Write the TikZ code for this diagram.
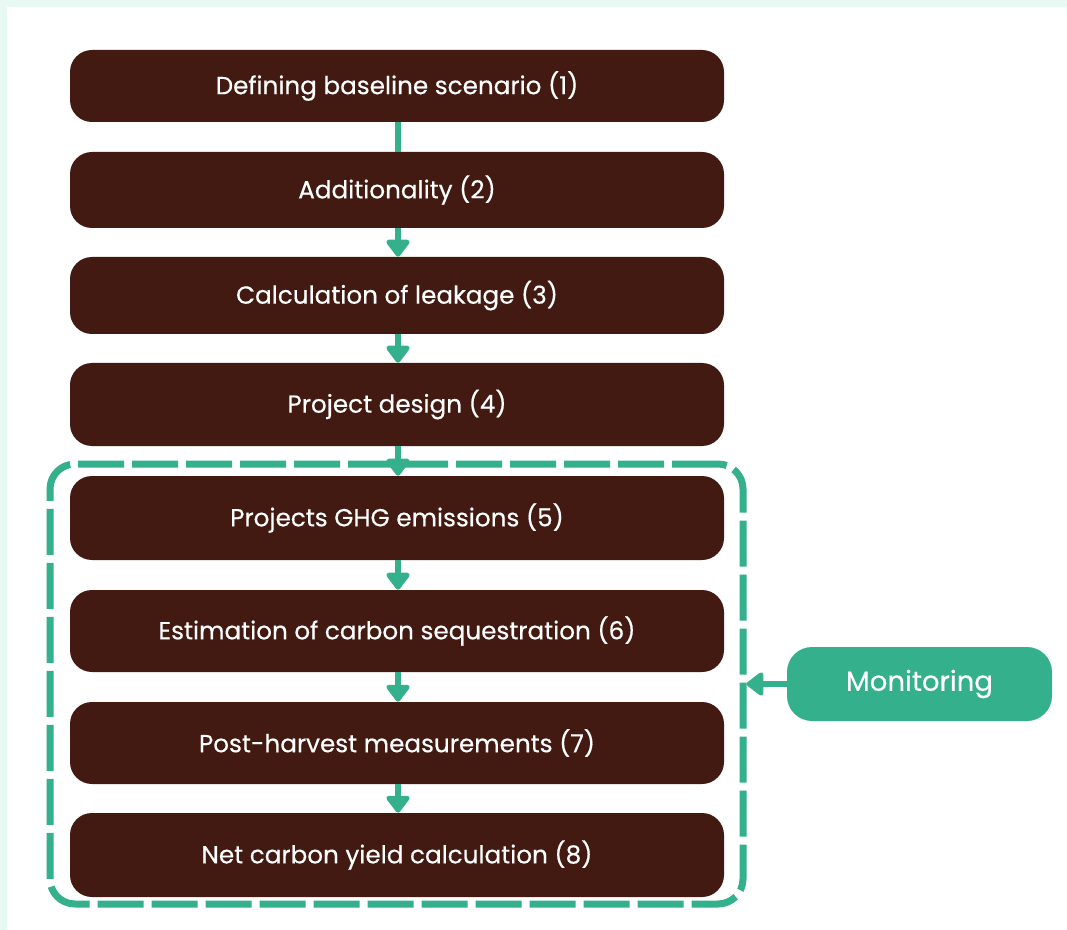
\documentclass[tikz,border=0pt]{standalone}
\usepackage{fontspec}
\setmainfont{Poppins}
\newfontfamily\boxfont{Poppins}[FakeBold=0.4]
\usetikzlibrary{arrows.meta}
\definecolor{brownbox}{RGB}{66,26,18}
\definecolor{greenc}{RGB}{52,176,140}
\definecolor{mintbg}{RGB}{232,248,242}
\tikzset{
  stepbox/.style={fill=brownbox, draw=none, rounded corners=16.5pt, minimum width=490.5pt, inner sep=0pt, text=white, font=\boxfont\fontsize{18.5}{22}\selectfont},
  flow/.style={draw=greenc, line width=4.5pt, -{Triangle[width=20pt,length=14pt,round]}},
  flowline/.style={draw=greenc, line width=4.5pt},
  monbox/.style={fill=greenc, draw=none, rounded corners=18.75pt, minimum width=198.75pt, minimum height=55.5pt, inner sep=0pt, text=white, font=\boxfont\fontsize{20.7}{25}\selectfont},
  frame/.style={draw=greenc, line width=5.25pt, dash pattern=on 34.5pt off 6pt, rounded corners=18.75pt, minimum width=519.75pt, minimum height=330pt, inner sep=0pt}
}
\begin{document}
\begin{tikzpicture}[x=0.75pt,y=-0.75pt]
\fill[mintbg] (0,0) rectangle (1067,930);
\fill[white] (7,7) rectangle (1067,930);
\useasboundingbox (0,0) rectangle (1067,930);

\node[frame] (frame) at (396.5,684) {};

\node[stepbox, minimum height=54pt] (s1) at (397,86) {Defining baseline scenario (1)};
\node[stepbox, minimum height=57pt] (s2) at (397,190) {Additionality (2)};
\node[stepbox, minimum height=57.75pt] (s3) at (397,295.5) {Calculation of leakage (3)};
\node[stepbox, minimum height=62.25pt] (s4) at (397,404.5) {Project design (4)};
\node[stepbox, minimum height=63pt] (s5) at (397,518) {Projects GHG emissions (5)};
\node[stepbox, minimum height=61.5pt] (s6) at (397,631) {Estimation of carbon sequestration (6)};
\node[stepbox, minimum height=61.5pt] (s7) at (397,743) {Post-harvest measurements (7)};
\node[stepbox, minimum height=63pt] (s8) at (397,855) {Net carbon yield calculation (8)};

\node[monbox] (mon) at (919.5,684) {Monitoring};

\draw[flowline] ([xshift=0.75pt]s1.south) -- ([xshift=0.75pt]s2.north);
\draw[flow] ([xshift=0.75pt]s2.south) -- ([xshift=0.75pt]s3.north);
\draw[flow] ([xshift=0.75pt]s3.south) -- ([xshift=0.75pt]s4.north);
\draw[flow] ([xshift=0.75pt]s4.south) -- ([xshift=0.75pt]s5.north);
\draw[flow] ([xshift=0.75pt]s5.south) -- ([xshift=0.75pt]s6.north);
\draw[flow] ([xshift=0.75pt]s6.south) -- ([xshift=0.75pt]s7.north);
\draw[flow] ([xshift=0.75pt]s7.south) -- ([xshift=0.75pt]s8.north);
\draw[flow] (mon.west) -- (frame.east);
\end{tikzpicture}
\end{document}
